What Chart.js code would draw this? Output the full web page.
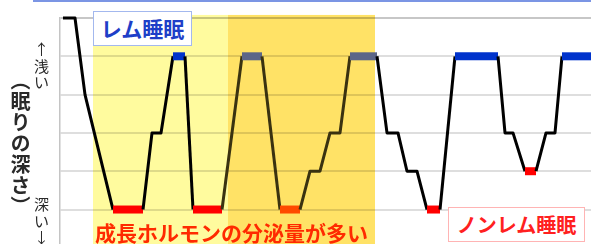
<!DOCTYPE html>
<html lang="ja">
<head>
<meta charset="utf-8">
<script src="https://cdn.jsdelivr.net/npm/chart.js@4.4.1/dist/chart.umd.min.js"></script>
<style>
body { margin: 0; background: #fff; }
#wrap { position: relative; width: 591px; height: 244px; overflow: hidden; font-family: "Noto Sans CJK JP", sans-serif; }
#chart { position: absolute; left: 0; top: 0; }
.lbl { position: absolute; white-space: nowrap; line-height: 1; }
.vert { writing-mode: vertical-rl; color: #2a2a2a; }
.stack { width: 1em; white-space: normal; word-break: break-all; text-align: center; color: #2a2a2a; line-height: 1.1; }
.box { background: #fff; text-align: center; font-weight: bold; box-sizing: border-box; }
#topRule { position: absolute; left: 33px; top: 0; width: 558px; height: 2px; background: #7b95e4; }
#yTitle { left: 10px; top: 70px; font-size: 20px; font-weight: bold; letter-spacing: 1px; }
#shallow { left: 34px; top: 41px; font-size: 15px; }
#deep { left: 34px; top: 196px; font-size: 15px; }
#remBox { left: 93px; top: 11px; width: 99px; height: 35px; line-height: 33px; border: 1px solid #a3b8ee; color: #1e3fc8; font-size: 21px; }
#nremBox { left: 448px; top: 207px; width: 137px; height: 35px; line-height: 33px; border: 1px solid #ffb4b4; color: #ff2020; font-size: 20px; }
#hormone { left: 95px; top: 222px; font-size: 21px; font-weight: bold; color: #ff2a00; }
</style>
</head>
<body>
<div id="wrap">
  <canvas id="chart" width="591" height="244"></canvas>
  <div id="topRule"></div>
  <div class="lbl vert" id="yTitle">（眠りの深さ）</div>
  <div class="lbl stack" id="shallow">↑浅い</div>
  <div class="lbl stack" id="deep">深い↓</div>
  <div class="lbl box" id="remBox">レム睡眠</div>
  <div class="lbl box" id="nremBox">ノンレム睡眠</div>
  <div class="lbl" id="hormone">成長ホルモンの分泌量が多い</div>
</div>
<script>
// Sleep time (arbitrary units from lights out) and depth (0 = awake, 1 = REM, 5 = deepest)
const times  = [3, 15, 25, 53, 83, 92, 101, 113, 125, 133, 162, 182, 202, 220, 240, 250, 260, 270, 280, 290,
                317, 327, 338, 347, 357, 367, 380, 395, 438, 445, 453, 465, 476, 486, 495, 502, 531];
const depths = [0, 0, 2, 5, 5, 3, 3, 1, 1, 5, 5, 1, 1, 5, 5, 4, 4, 3, 3, 1,
                1, 3, 3, 4, 4, 5, 5, 1, 1, 3, 3, 4, 4, 3, 3, 1, 1];
// Phase of the segment that starts at each point: R = REM, D = deep sleep
const phases = ['', '', '', 'D', '', '', '', 'R', '', 'D', '', 'R', '', 'D', '', '', '', '', '', 'R',
                '', '', '', '', '', 'D', '', 'R', '', '', '', 'D', '', '', '', 'R'];

// Growth hormone periods (light band, then dark band)
const bandStart = [33, 168];
const bandEnd   = [168, 315];
const bandColors = ['#fffb9e', '#ffe266'];

const depthMax = 5.9;

function inDarkBand(i) {
    const mid = (times[i] + times[i + 1]) / 2;
    return mid > bandStart[1] && mid < bandEnd[1];
}

function segColor(ctx) {
    const i = ctx.p0DataIndex;
    const dark = inDarkBand(i);
    if (phases[i] === 'R') return dark ? '#5c6688' : '#0033cc';
    if (phases[i] === 'D') return dark ? '#ff4a00' : '#ff0000';
    return dark ? '#3a3210' : '#000000';
}

function segWidth(ctx) {
    return phases[ctx.p0DataIndex] ? 8 : 3;
}

// yellow background bands behind the grid
const bandPlugin = {
    id: 'bands',
    beforeDraw(chart) {
        const { ctx, scales: { x, y }, chartArea } = chart;
        ctx.save();
        for (let b = 0; b < bandStart.length; b++) {
            const left = x.getPixelForValue(bandStart[b]);
            const right = x.getPixelForValue(bandEnd[b]);
            const top = y.getPixelForValue(-0.08);
            ctx.fillStyle = bandColors[b];
            ctx.fillRect(left, top, right - left, chartArea.bottom - top);
        }
        ctx.restore();
    }
};

new Chart(document.getElementById('chart'), {
    type: 'line',
    data: {
        datasets: [{
            label: '眠りの深さ',
            data: times.map((t, i) => ({ x: t, y: depths[i] })),
            borderColor: '#000',
            borderWidth: 3,
            pointRadius: 0,
            tension: 0,
            clip: 10,
            borderCapStyle: 'butt',
            borderJoinStyle: 'round',
            segment: {
                borderColor: segColor,
                borderWidth: segWidth
            }
        }]
    },
    options: {
        responsive: false,
        animation: false,
        layout: { padding: { left: 60, top: 18, right: 0, bottom: 0 } },
        plugins: {
            legend: { display: false },
            tooltip: { enabled: false }
        },
        scales: {
            x: {
                type: 'linear',
                min: 0,
                max: 531,
                display: false
            },
            y: {
                type: 'linear',
                reverse: true,
                min: 0,
                max: depthMax,
                afterFit: s => { s.width = 0; },
                ticks: { display: false, stepSize: 1, includeBounds: false },
                grid: {
                    drawTicks: false,
                    lineWidth: 2,
                    color: c => c.tick.value === 0 ? 'rgba(0,0,0,0.22)' : 'rgba(0,0,0,0.13)'
                },
                border: { display: true, color: '#c4c4c4', width: 1.5 }
            }
        }
    },
    plugins: [bandPlugin]
});
</script>
</body>
</html>
